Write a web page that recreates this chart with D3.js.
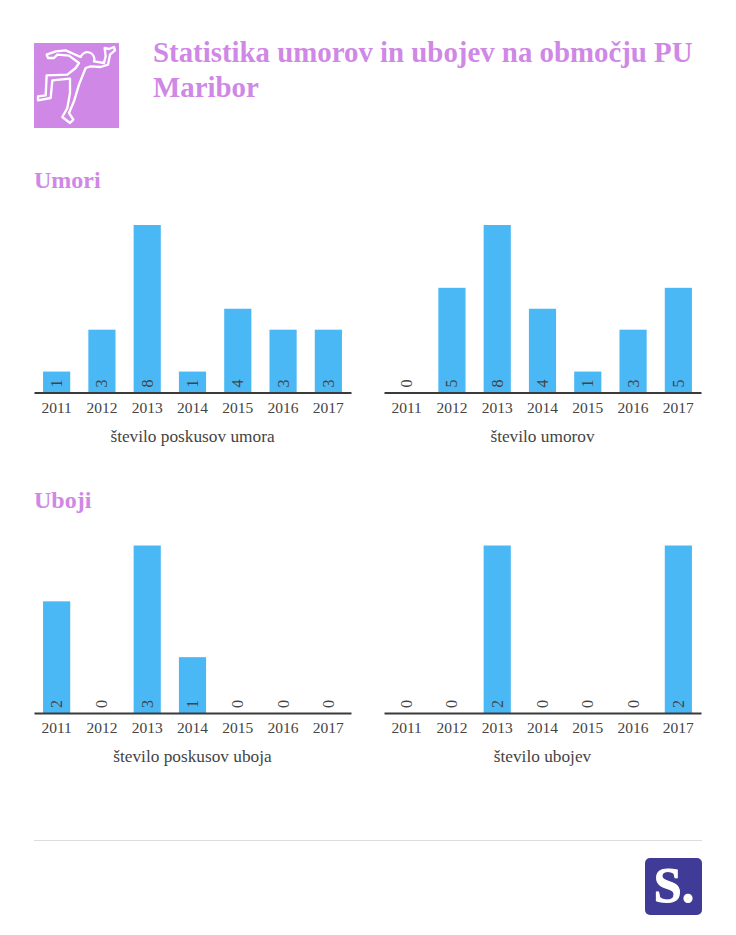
<!DOCTYPE html>
<html>
<head>
<meta charset="utf-8">
<script src="https://cdn.jsdelivr.net/npm/d3@7"></script>
<style>
  body { margin: 0; background: #fff; }
  text { font-family: "Liberation Serif", serif; }
</style>
</head>
<body>
<svg id="chart" width="736" height="935"></svg>
<script>
const years = ["2011", "2012", "2013", "2014", "2015", "2016", "2017"];
const poskusiUmora = [1, 3, 8, 1, 4, 3, 3];
const umori = [0, 5, 8, 4, 1, 3, 5];
const poskusiUboja = [2, 0, 3, 1, 0, 0, 0];
const uboji = [0, 0, 2, 0, 0, 0, 2];

const purple = "#cf88e6";
const blue = "#4bb8f6";
const dark = "#3a3a3a";
const grey = "#444";

const svg = d3.select("#chart");

// one small bar chart
function drawBars(values, label, left, base) {
    const x = d3.scaleBand()
        .domain(years)
        .range([left, left + 317])
        .paddingInner(0.4)
        .paddingOuter(0.2);

    const y = d3.scaleLinear()
        .domain([0, d3.max(values)])
        .range([base, base - 167.5]);

    const g = svg.append("g");

    g.selectAll("rect")
        .data(values)
        .enter()
        .append("rect")
        .attr("x", (d, i) => x(years[i]))
        .attr("y", d => y(d))
        .attr("width", x.bandwidth())
        .attr("height", d => y(0) - y(d))
        .attr("fill", blue);

    // value labels are turned sideways inside the bars
    g.selectAll(".value")
        .data(values)
        .enter()
        .append("text")
        .attr("class", "value")
        .attr("transform", (d, i) => `translate(${x(years[i]) + x.bandwidth() / 2 + 5.5}, ${base - 5}) rotate(-90)`)
        .attr("font-size", 16)
        .attr("fill", grey)
        .text(d => d);

    const axis = d3.axisBottom(x).tickSize(0).tickPadding(9);
    const axisG = g.append("g")
        .attr("transform", `translate(0, ${base})`)
        .call(axis);
    axisG.select(".domain")
        .attr("stroke", dark)
        .attr("stroke-width", 2);
    axisG.selectAll("text")
        .attr("font-family", "Liberation Serif")
        .attr("font-size", 15.5)
        .attr("fill", grey);

    g.append("text")
        .attr("x", left + 158.5)
        .attr("y", base + 49)
        .attr("text-anchor", "middle")
        .attr("font-size", 17.3)
        .attr("fill", grey)
        .text(label);
}

// title
svg.append("rect")
    .attr("x", 34).attr("y", 43)
    .attr("width", 85).attr("height", 85)
    .attr("fill", purple);

svg.append("path")
    .attr("transform", "translate(34, 43) scale(0.3333)")
    .attr("d", "M38 35 L65 25 L95 22 L140 42 A20 20 0 1 1 180 55 L210 60 L215 40 L212 15 L225 18 L240 12 L243 22 L228 35 L222 65 L200 72 L170 70 L155 75 L135 125 L120 175 L105 210 L118 230 L108 240 L85 222 L100 195 L108 150 L108 107 L55 112 L50 165 L12 172 L12 160 L35 157 L38 97 L100 95 L125 75 L135 60 L105 38 L70 35 L60 45 L42 45 Z")
    .attr("fill", "none")
    .attr("stroke", "#fff")
    .attr("stroke-width", 7)
    .attr("stroke-linejoin", "round");

svg.append("text")
    .attr("x", 153).attr("y", 62)
    .attr("font-size", 28.85)
    .attr("font-weight", "bold")
    .attr("fill", purple)
    .text("Statistika umorov in ubojev na območju PU");

svg.append("text")
    .attr("x", 153).attr("y", 97)
    .attr("font-size", 28.85)
    .attr("font-weight", "bold")
    .attr("fill", purple)
    .text("Maribor");

svg.append("text")
    .attr("x", 34).attr("y", 188)
    .attr("font-size", 24)
    .attr("font-weight", "bold")
    .attr("fill", purple)
    .text("Umori");

svg.append("text")
    .attr("x", 34).attr("y", 508)
    .attr("font-size", 24)
    .attr("font-weight", "bold")
    .attr("fill", purple)
    .text("Uboji");

drawBars(poskusiUmora, "število poskusov umora", 34, 392.5);
drawBars(umori, "število umorov", 384, 392.5);
drawBars(poskusiUboja, "število poskusov uboja", 34, 713);
drawBars(uboji, "število ubojev", 384, 713);

// footer
svg.append("line")
    .attr("x1", 34).attr("x2", 702)
    .attr("y1", 840.5).attr("y2", 840.5)
    .attr("stroke", "#ddd");

svg.append("rect")
    .attr("x", 645).attr("y", 858)
    .attr("width", 57).attr("height", 57)
    .attr("rx", 5)
    .attr("fill", "#3f3b96");

svg.append("text")
    .attr("x", 674).attr("y", 902)
    .attr("text-anchor", "middle")
    .attr("font-size", 50)
    .attr("font-weight", "900")
    .attr("fill", "#fff")
    .attr("stroke", "#fff")
    .attr("stroke-width", 1)
    .text("S.");
</script>
</body>
</html>
